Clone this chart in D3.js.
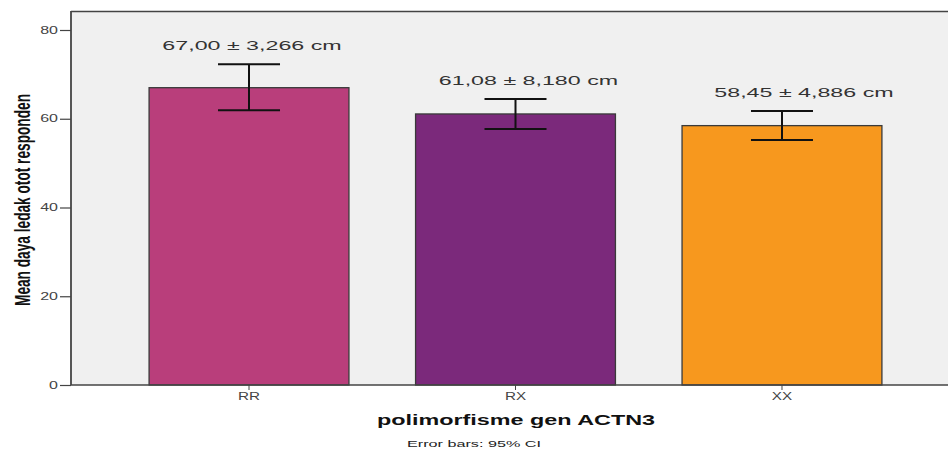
<!DOCTYPE html>
<html><head><meta charset="utf-8">
<script src="https://cdn.jsdelivr.net/npm/d3@7"></script>
<style>body{margin:0;background:#fff}svg{display:block}</style>
</head><body>
<svg id="c" width="948" height="450"></svg>
<script>
const categories = ["RR", "RX", "XX"];
const means = [67.00, 61.08, 58.45];
const ciLow = [61.9, 57.7, 55.2];
const ciHigh = [72.3, 64.45, 61.75];
const sdLabels = ["67,00 ± 3,266 cm", "61,08 ± 8,180 cm", "58,45 ± 4,886 cm"];
const colors = ["#b93e7b", "#7b297b", "#f7981e"];
const yTicks = [0, 20, 40, 60, 80];

const FONT = "Liberation Sans, Arial, sans-serif";
const svg = d3.select("#c");
const L = 71, T = 11, B = 385, R = 960;
const y = d3.scaleLinear().domain([0, 80]).range([B, 30]);
const x = d3.scaleBand().domain(categories).range([L, R]).paddingInner(0.25).paddingOuter(0.293);

// horizontal stretch helper (the original export is widened)
function stretch(sel, k) {
  sel.each(function () {
    const w = this.getComputedTextLength();
    d3.select(this).attr("textLength", w * k).attr("lengthAdjust", "spacingAndGlyphs");
  });
}

svg.append("rect").attr("x", L).attr("y", T).attr("width", 948 - L).attr("height", B - T).attr("fill", "#f0f0f0");
svg.append("line").attr("x1", L).attr("x2", 948).attr("y1", T + 0.5).attr("y2", T + 0.5).attr("stroke", "#444").attr("stroke-width", 1.5);

// bars
svg.selectAll("rect.bar").data(categories).enter().append("rect")
  .attr("class", "bar")
  .attr("x", d => x(d)).attr("width", x.bandwidth())
  .attr("y", (d, i) => y(means[i])).attr("height", (d, i) => B - y(means[i]))
  .attr("fill", (d, i) => colors[i]).attr("stroke", "#3a3a3a").attr("stroke-width", 1.3);

// error bars
const cap = 31;
categories.forEach((c, i) => {
  const cx = x(c) + x.bandwidth() / 2;
  const g = svg.append("g").attr("stroke", "#111").attr("stroke-width", 2);
  g.append("line").attr("x1", cx).attr("x2", cx).attr("y1", y(ciLow[i])).attr("y2", y(ciHigh[i]));
  g.append("line").attr("x1", cx - cap).attr("x2", cx + cap).attr("y1", y(ciLow[i])).attr("y2", y(ciLow[i]));
  g.append("line").attr("x1", cx - cap).attr("x2", cx + cap).attr("y1", y(ciHigh[i])).attr("y2", y(ciHigh[i]));
});

// value labels
const labelShift = [3, 13, 22];
const lab = svg.selectAll("text.val").data(categories).enter().append("text").attr("class", "val")
  .attr("x", (c, i) => x(c) + x.bandwidth() / 2 + labelShift[i]).attr("y", (c, i) => y(ciHigh[i]) - 14)
  .attr("text-anchor", "middle").attr("font-family", FONT)
  .attr("font-size", 13.5).attr("fill", "#333").text((c, i) => sdLabels[i]);
stretch(lab, 1.72);

// y axis
const yAxis = d3.axisLeft(y).tickValues(yTicks).tickSize(11).tickPadding(2).tickFormat(d3.format("d"));
const gy = svg.append("g").attr("transform", `translate(${L},0)`).call(yAxis);
gy.select(".domain").remove();
gy.selectAll("line").attr("stroke", "#444").attr("stroke-width", 1.2);
gy.selectAll("text").attr("font-family", FONT).attr("font-size", 10).attr("fill", "#444");
stretch(gy.selectAll("text"), 1.6);
svg.append("line").attr("x1", L).attr("x2", L).attr("y1", T).attr("y2", B).attr("stroke", "#444").attr("stroke-width", 1.8);

// x axis
const xAxis = d3.axisBottom(x).tickSize(5).tickPadding(3);
const gx = svg.append("g").attr("transform", `translate(0,${B})`).call(xAxis);
gx.select(".domain").remove();
gx.selectAll("line").attr("stroke", "#444");
gx.selectAll("text").attr("font-family", FONT).attr("font-size", 10.5).attr("fill", "#444");
stretch(gx.selectAll("text"), 1.45);
svg.append("line").attr("x1", L).attr("x2", 948).attr("y1", B).attr("y2", B).attr("stroke", "#444").attr("stroke-width", 1.5);

// titles
svg.append("text").attr("x", 516).attr("y", 425).attr("text-anchor", "middle")
  .attr("font-family", FONT).attr("font-weight", "bold").attr("font-size", 14)
  .attr("fill", "#111").attr("textLength", 278).attr("lengthAdjust", "spacingAndGlyphs")
  .text("polimorfisme gen ACTN3");
svg.append("text").attr("x", 474).attr("y", 447).attr("text-anchor", "middle")
  .attr("font-family", FONT).attr("font-size", 9)
  .attr("fill", "#222").attr("textLength", 134).attr("lengthAdjust", "spacingAndGlyphs")
  .text("Error bars: 95% CI");
svg.append("text").attr("transform", "translate(30,200) rotate(-90) scale(1,1.5)").attr("text-anchor", "middle")
  .attr("font-family", FONT).attr("font-weight", "bold").attr("font-size", 15)
  .attr("fill", "#111").attr("textLength", 212).attr("lengthAdjust", "spacingAndGlyphs")
  .text("Mean daya ledak otot responden");
</script>
</body></html>
